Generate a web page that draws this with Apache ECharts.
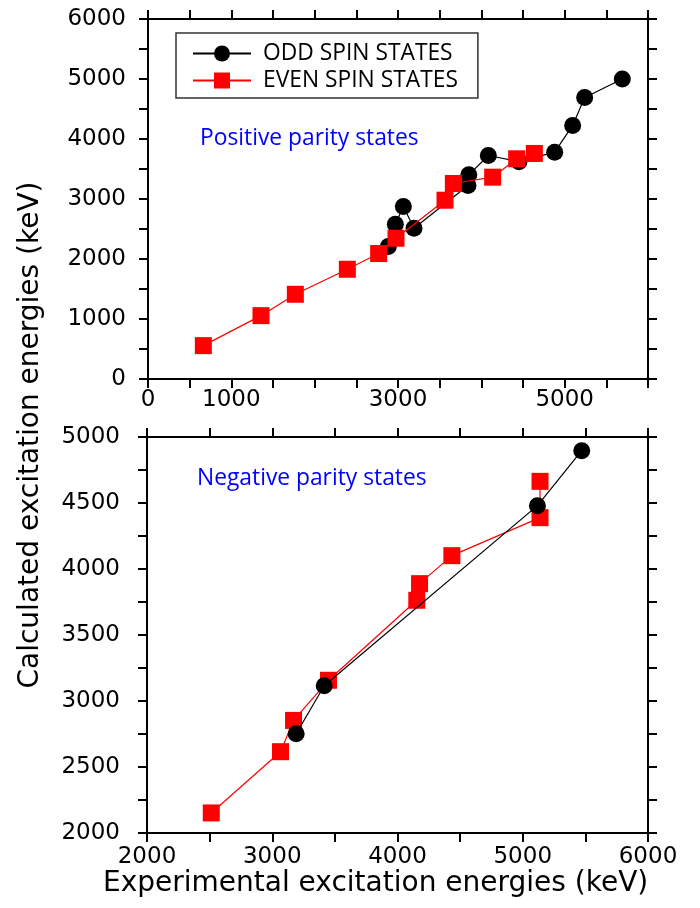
<!DOCTYPE html>
<html>
<head>
<meta charset="utf-8">
<script src="https://cdn.jsdelivr.net/npm/echarts@6/dist/echarts.min.js"></script>
<style>
  html, body { margin: 0; padding: 0; background: #fff; }
  #chart { width: 700px; height: 908px; }
</style>
</head>
<body>
<div id="chart"></div>
<script>
// Positive parity: experimental (x) vs calculated (y) energies in keV
const posOddExp  = [2884, 2968, 3064, 3192, 3840, 3850, 4084, 4452, 4880, 5096, 5240, 5692];
const posOddCalc = [2207, 2580, 2875, 2513, 3225, 3403, 3725, 3622, 3781, 4226, 4693, 5000];
const posEvenExp  = [664, 1356, 1768, 2392, 2768, 2976, 3564, 3664, 4136, 4424, 4636];
const posEvenCalc = [556, 1056, 1412, 1829, 2091, 2346, 2980, 3258, 3364, 3670, 3759];

// Negative parity states
const negOddExp  = [3191, 3415, 5117, 5471];
const negOddCalc = [2752, 3116, 4480, 4896];
const negEvenExp  = [2513, 3066, 3170, 3449, 4154, 4176, 4434, 5138, 5138];
const negEvenCalc = [2152, 2616, 2853, 3157, 3763, 3889, 4101, 4389, 4664];

// Tick labels
const topXLabels = [0, 1000, 3000, 5000];
const topYLabels = [0, 1000, 2000, 3000, 4000, 5000, 6000];
const botXLabels = [2000, 3000, 4000, 5000, 6000];
const botYLabels = [2000, 2500, 3000, 3500, 4000, 4500, 5000];

const seriesNames = ['ODD SPIN STATES', 'EVEN SPIN STATES'];

const pairs = (xs, ys) => xs.map((x, i) => [x, ys[i]]);
const AX = '#000';
const tickFont = 'DejaVu Sans';

function axisBase(gridIndex, position, min, max, interval, labels, margin, showLabel) {
  return {
    type: 'value', gridIndex, position, min, max, interval,
    axisLine: { show: true, onZero: false, lineStyle: { color: AX, width: 2 } },
    axisTick: { show: true, inside: false, length: 9, lineStyle: { color: AX, width: 2 } },
    splitLine: { show: false },
    axisLabel: {
      show: showLabel, margin,
      color: '#000', fontFamily: tickFont, fontSize: 23,
      formatter: v => labels.includes(v) ? String(v) : ''
    }
  };
}

const chart = echarts.init(document.getElementById('chart'), null, { renderer: 'canvas' });

chart.setOption({
  backgroundColor: '#fff',
  animation: false,
  grid: [
    { left: 148, top: 19, width: 500, height: 360 },
    { left: 147, top: 437, width: 501, height: 396 }
  ],
  xAxis: [
    axisBase(0, 'bottom', 0, 6000, 500, topXLabels, 10, true),
    axisBase(0, 'top', 0, 6000, 500, topXLabels, 10, false),
    axisBase(1, 'bottom', 2000, 6000, 500, botXLabels, 13, true),
    axisBase(1, 'top', 2000, 6000, 500, botXLabels, 13, false)
  ],
  yAxis: [
    axisBase(0, 'left', 0, 6000, 500, topYLabels, 22, true),
    axisBase(0, 'right', 0, 6000, 500, topYLabels, 22, false),
    axisBase(1, 'left', 2000, 5000, 250, botYLabels, 27, true),
    axisBase(1, 'right', 2000, 5000, 250, botYLabels, 27, false)
  ],
  legend: {
    data: seriesNames,
    orient: 'vertical',
    left: 176, top: 33,
    padding: [9, 20, 6, 16],
    itemWidth: 58, itemHeight: 20, itemGap: 4,
    borderColor: '#333', borderWidth: 1.5,
    backgroundColor: '#fff',
    textStyle: { fontFamily: 'Open Sans', fontSize: 22.8, lineHeight: 20, color: '#000', padding: [0, 0, 0, 7] }
  },
  graphic: [
    { type: 'text', left: 200, top: 127,
      style: { text: 'Positive parity states', fill: '#0000ff', font: '22.8px "Open Sans"' } },
    { type: 'text', left: 197, top: 467,
      style: { text: 'Negative parity states', fill: '#0000ff', font: '22.8px "Open Sans"' } },
    { type: 'text', left: 103, top: 870,
      style: { text: 'Experimental excitation energies (keV)', fill: '#000', font: '28px "DejaVu Sans"' } },
    { type: 'text', x: 31, y: 435, rotation: Math.PI / 2,
      style: { text: 'Calculated excitation energies (keV)', fill: '#000', font: '28px "DejaVu Sans"',
               align: 'center', verticalAlign: 'middle' } }
  ],
  series: [
    { name: seriesNames[0], type: 'line', xAxisIndex: 0, yAxisIndex: 0,
      data: pairs(posOddExp, posOddCalc), symbol: 'circle', symbolSize: 17,
      itemStyle: { color: '#000' }, lineStyle: { color: '#000', width: 1.2 }, z: 2 },
    { name: seriesNames[1], type: 'line', xAxisIndex: 0, yAxisIndex: 0,
      data: pairs(posEvenExp, posEvenCalc), symbol: 'rect', symbolSize: 17,
      itemStyle: { color: '#ff0000' }, lineStyle: { color: '#ff0000', width: 1.2 }, z: 3 },
    { name: seriesNames[1], type: 'line', xAxisIndex: 2, yAxisIndex: 2,
      data: pairs(negEvenExp, negEvenCalc), symbol: 'rect', symbolSize: 17,
      itemStyle: { color: '#ff0000' }, lineStyle: { color: '#ff0000', width: 1.2 }, z: 2 },
    { name: seriesNames[0], type: 'line', xAxisIndex: 2, yAxisIndex: 2,
      data: pairs(negOddExp, negOddCalc), symbol: 'circle', symbolSize: 17,
      itemStyle: { color: '#000' }, lineStyle: { color: '#000', width: 1.2 }, z: 3 }
  ]
});
</script>
</body>
</html>
